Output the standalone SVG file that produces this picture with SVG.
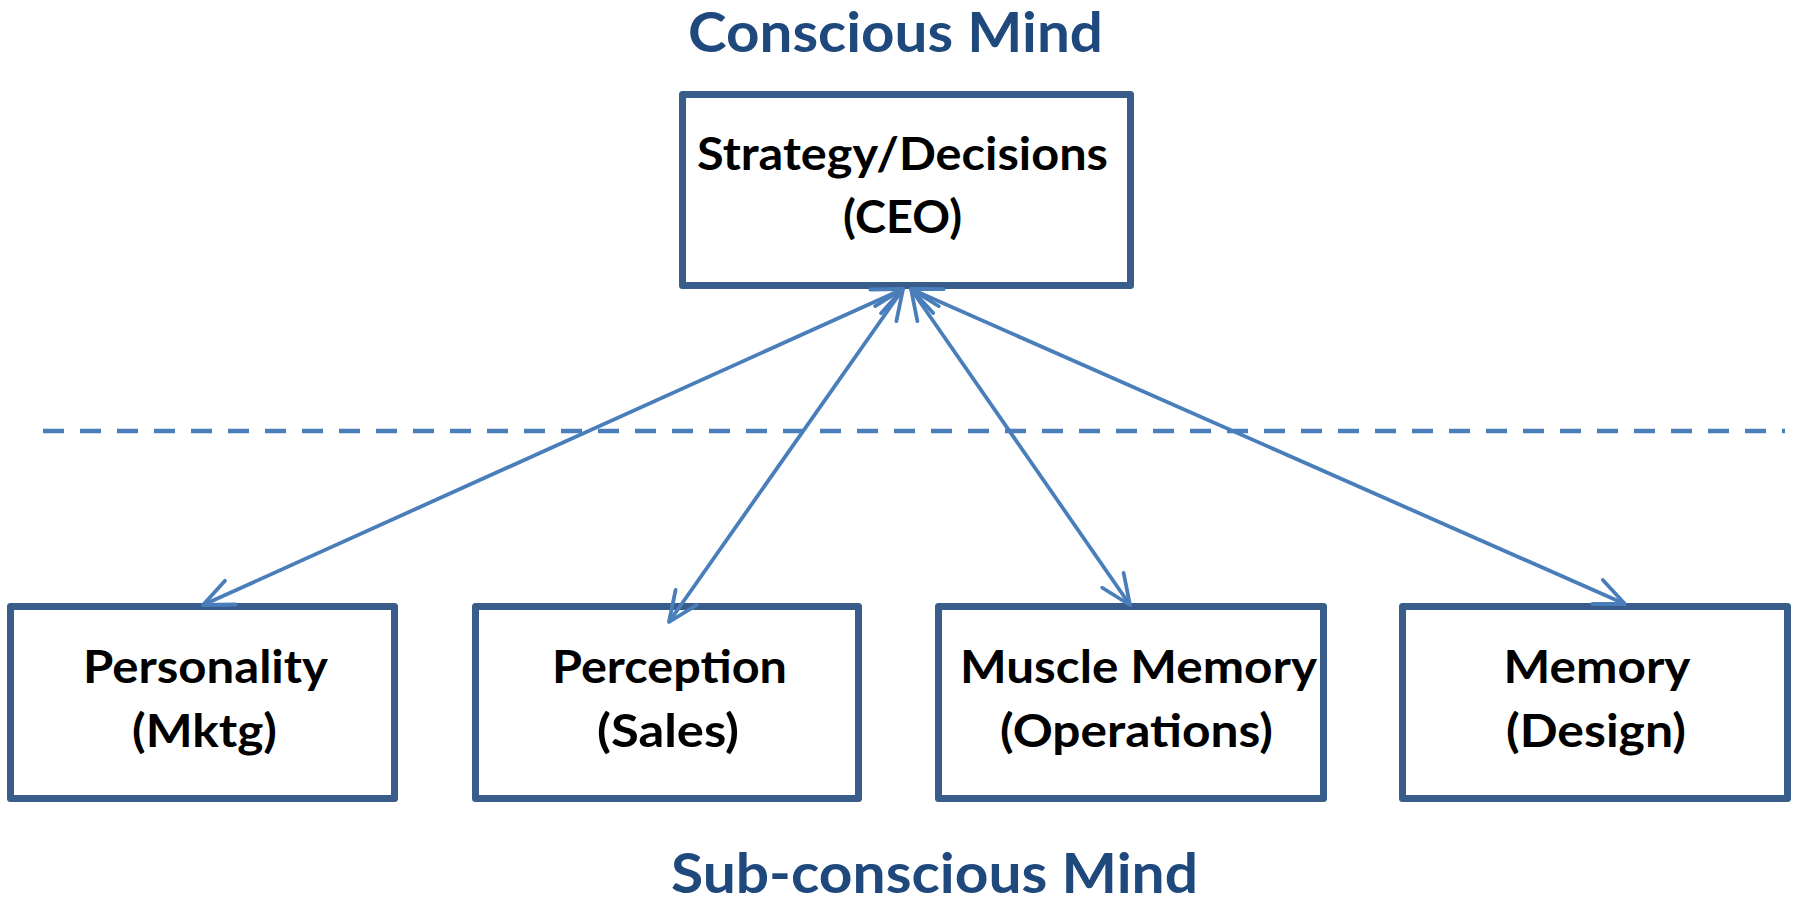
<svg xmlns="http://www.w3.org/2000/svg" width="1798" height="904" viewBox="0 0 1798 904">
<style>
.box{fill:#ffffff;stroke:#385D8A;stroke-width:7;stroke-linejoin:round}
.lbl{font-family:Lato,"Open Sans","Liberation Sans",sans-serif;font-weight:bold;font-size:46px;fill:#000000;text-anchor:middle}
.title{font-family:Lato,"Open Sans","Liberation Sans",sans-serif;font-weight:bold;font-size:56px;fill:#1F497D;text-anchor:middle}
.conn{stroke:#4A7EBB;stroke-width:3.8;fill:none;marker-start:url(#arr);marker-end:url(#arr)}
.dash{stroke:#4A7EBB;stroke-width:4.5;fill:none;stroke-dasharray:21 16}
</style>
<defs>
<marker id="arr" markerUnits="userSpaceOnUse" viewBox="-40 -20 50 40" refX="0" refY="0" markerWidth="50" markerHeight="40" orient="auto-start-reverse" overflow="visible">
<path d="M-30,-13 L0,0 L-30,13" fill="none" stroke="#4A7EBB" stroke-width="3.8" stroke-linecap="round" stroke-linejoin="round"/>
</marker>
</defs>
<rect width="1798" height="904" fill="#ffffff"/>
<text class="title" x="895.5" y="52" textLength="415" lengthAdjust="spacingAndGlyphs">Conscious Mind</text>
<text class="title" x="934.5" y="893" textLength="527" lengthAdjust="spacingAndGlyphs">Sub-conscious Mind</text>
<line class="dash" x1="43" y1="431" x2="1785" y2="431"/>
<g id="ceo">
<rect class="box" x="682.5" y="94.5" width="448" height="191"/>
<text class="lbl" x="902.5" y="170" textLength="411" lengthAdjust="spacingAndGlyphs">Strategy/Decisions</text>
<text class="lbl" x="902.5" y="233" textLength="119" lengthAdjust="spacingAndGlyphs">(CEO)</text>
</g>
<g id="personality">
<rect class="box" x="10.5" y="606.5" width="384" height="192"/>
<text class="lbl" x="205.5" y="683" textLength="245" lengthAdjust="spacingAndGlyphs">Personality</text>
<text class="lbl" x="204.5" y="747" textLength="145" lengthAdjust="spacingAndGlyphs">(Mktg)</text>
</g>
<g id="perception">
<rect class="box" x="475.5" y="606.5" width="383" height="192"/>
<text class="lbl" x="669.5" y="683" textLength="235" lengthAdjust="spacingAndGlyphs">Perception</text>
<text class="lbl" x="668" y="747" textLength="142" lengthAdjust="spacingAndGlyphs">(Sales)</text>
</g>
<g id="muscle">
<rect class="box" x="938.5" y="606.5" width="385" height="192"/>
<text class="lbl" x="1138.5" y="683" textLength="357" lengthAdjust="spacingAndGlyphs">Muscle Memory</text>
<text class="lbl" x="1136.5" y="747" textLength="273" lengthAdjust="spacingAndGlyphs">(Operations)</text>
</g>
<g id="memory">
<rect class="box" x="1402.5" y="606.5" width="385" height="192"/>
<text class="lbl" x="1597" y="683" textLength="187" lengthAdjust="spacingAndGlyphs">Memory</text>
<text class="lbl" x="1596" y="747" textLength="180" lengthAdjust="spacingAndGlyphs">(Design)</text>
</g>
<g id="connectors">
<line class="conn" x1="903" y1="289" x2="203" y2="605"/>
<line class="conn" x1="903" y1="289" x2="669" y2="622"/>
<line class="conn" x1="911" y1="289" x2="1130" y2="605"/>
<line class="conn" x1="911" y1="289" x2="1625" y2="604"/>
</g>
</svg>
